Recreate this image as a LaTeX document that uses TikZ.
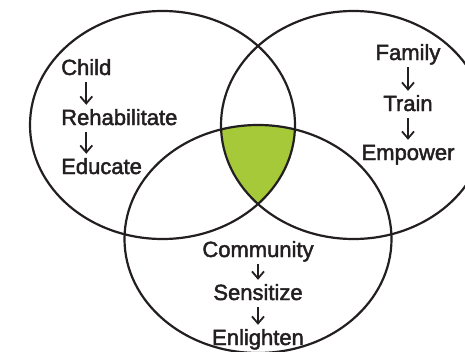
\documentclass[tikz,border=0pt]{standalone}
\usepackage{fontspec}
\setmainfont{Liberation Sans}
\newfontfamily\wordfont[FakeBold=2]{Liberation Sans}
\usetikzlibrary{arrows.meta}
\definecolor{leafgreen}{HTML}{A6C93A}
\definecolor{inkgray}{HTML}{231F20}

\begin{document}
\begin{tikzpicture}[x=1pt, y=-1pt,
    ring/.style={draw=inkgray, line width=2.2pt},
    word/.style={inner sep=0pt, text=inkgray, font=\wordfont\fontsize{22}{26}\selectfont,
        text height=15pt, text depth=5pt},
    flow/.style={draw=inkgray, line width=1.8pt,
        -{Straight Barb[length=7pt,width=12pt]}, shorten <=2pt, shorten >=5pt}]
    \clip (0,0) rectangle (465,351);
    % shared part of the three circles
    \begin{scope}
        \clip (162.5,125) ellipse [x radius=132.5pt, y radius=114pt];
        \clip (353.5,125) ellipse [x radius=132.5pt, y radius=114pt];
        \fill[leafgreen] (258,239) ellipse [x radius=133.5pt, y radius=114pt];
    \end{scope}
    \draw[ring] (162.5,125) ellipse [x radius=132.5pt, y radius=114pt];
    \draw[ring] (353.5,125) ellipse [x radius=132.5pt, y radius=114pt];
    \draw[ring] (258,239) ellipse [x radius=133.5pt, y radius=114pt];
    % left
    \node[word, anchor = base west] (child) at (61,75){Child};
    \node[word, anchor = base west] (rehab) at (61,125){Rehabilitate};
    \node[word, anchor = base west] (educate) at (61,174){Educate};
    \draw[flow] (child.south) -- (child.south |- rehab.north);
    \draw[flow] (child.south |- rehab.south) -- (child.south |- educate.north);
    % right
    \node[word, anchor = base] (family) at (408,60){Family};
    \node[word, anchor = base] (train) at (408,111){Train};
    \node[word, anchor = base] (empower) at (408,160){Empower};
    \draw[flow] (family) -- (train);
    \draw[flow] (train) -- (empower);
    % bottom
    \node[word, anchor = base] (community) at (258,257){Community};
    \node[word, anchor = base] (sensitize) at (258,300){Sensitize};
    \node[word, anchor = base] (enlighten) at (258,345){Enlighten};
    \draw[flow] (community) -- (sensitize);
    \draw[flow] (sensitize) -- (enlighten);
\end{tikzpicture}
\end{document}
